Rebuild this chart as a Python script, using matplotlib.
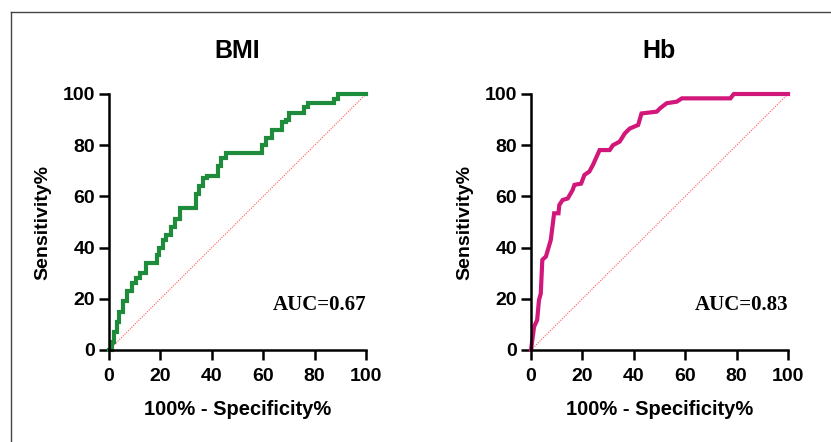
import matplotlib
matplotlib.use('Agg')
import matplotlib.pyplot as plt
from matplotlib.lines import Line2D

# ROC curve points (100% - specificity, sensitivity)
bmi_fpr = [0, 1, 1, 2, 2, 3, 3, 4, 4, 5.5, 5.5, 7, 7, 9, 9, 10.5, 10.5, 12, 12, 14.5, 14.5,
           18.5, 18.5, 19.5, 19.5, 21, 21, 22, 22, 24, 24, 25.5, 25.5, 27.5, 27.5, 34, 34,
           35, 35, 36.5, 36.5, 38, 38, 42.5, 42.5, 43.5, 43.5, 45.5, 45.5, 49, 49, 59.5,
           59.5, 61, 61, 63.5, 63.5, 67.5, 67.5, 69, 69, 70.2, 70.2, 76, 76, 77.5, 77.5,
           87.5, 87.5, 89, 89, 100]
bmi_tpr = [0, 0, 3, 3, 7, 7, 11, 11, 15, 15, 19, 19, 23, 23, 26, 26, 28, 28, 30, 30, 34,
           34, 37, 37, 40, 40, 43, 43, 45, 45, 48, 48, 51, 51, 55.5, 55.5, 61, 61, 64, 64,
           67, 67, 68, 68, 72, 72, 75, 75, 77, 77, 77, 77, 80, 80, 83, 83, 86, 86, 89, 89,
           90, 90, 92.5, 92.5, 95, 95, 96.5, 96.5, 98, 98, 100, 100]

hb_fpr = [0, 1.2, 2.4, 3.1, 3.8, 4.4, 5.8, 7.7, 9.0, 10.7, 11.0, 12.3, 14.3, 16.2, 16.9,
          19.5, 20.8, 22.7, 24.1, 26.7, 30.6, 31.9, 34.5, 36.5, 38.4, 41.7, 43.0, 48.9,
          50.2, 52.8, 56.7, 58.7, 77.6, 78.9, 100]
hb_tpr = [0, 9.1, 11.7, 19.5, 22.0, 35.2, 36.5, 43.0, 53.4, 53.4, 56.6, 58.6, 59.2, 62.5,
          64.5, 65.0, 68.4, 69.7, 72.3, 78.1, 78.1, 80.0, 81.4, 84.6, 86.5, 87.9, 92.4,
          93.1, 94.4, 96.4, 97.0, 98.3, 98.3, 100, 100]

panels = [
    ('BMI', bmi_fpr, bmi_tpr, '#1e8c3a', 'AUC=0.67'),
    ('Hb', hb_fpr, hb_tpr, '#d1177a', 'AUC=0.83'),
]
ticks = [0, 20, 40, 60, 80, 100]

W, H = 831, 442
fig = plt.figure(figsize=(W / 100, H / 100), dpi=100)
plt.rcParams['font.family'] = 'Liberation Sans'

lefts = [109, 531]
for (name, fpr, tpr, col, auc), x0 in zip(panels, lefts):
    ax = fig.add_axes([x0 / W, (H - 350) / H, 257 / W, 256 / H])
    ax.plot([0, 100], [0, 100], color='#ff5a5a', lw=0.8, ls=(0, (1, 1.2)))
    ax.plot(fpr, tpr, color=col, lw=3, clip_on=False, solid_joinstyle='miter')
    ax.set_xlim(0, 100)
    ax.set_ylim(0, 100)
    ax.set_xticks(ticks)
    ax.set_yticks(ticks)
    for s in ['top', 'right']:
        ax.spines[s].set_visible(False)
    for s in ['left', 'bottom']:
        ax.spines[s].set_linewidth(1.8)
    ax.tick_params(direction='out', length=7, width=1.8, labelsize=14)
    ax.tick_params(axis='x', pad=6)
    ax.tick_params(axis='y', pad=3)
    for lab in ax.get_xticklabels() + ax.get_yticklabels():
        lab.set_fontweight('bold')
    ax.set_xlabel('100% - Specificity%', fontsize=14.5, fontweight='bold', labelpad=11)
    ax.set_ylabel('Sensitivity%', fontsize=14, fontweight='bold', labelpad=8)
    ax.set_title(name, fontsize=18, fontweight='bold', pad=26)
    ax.text(100, 17.5, auc, ha='right', va='center', fontsize=15, fontweight='bold',
            family='Liberation Serif')

# thin frame along the top and left edges of the picture
fig.add_artist(Line2D([10.5 / W, 1], [1 - 11.5 / H, 1 - 11.5 / H], color='#444444', lw=1))
fig.add_artist(Line2D([10.5 / W, 10.5 / W], [0, 1 - 11.5 / H], color='#444444', lw=1))

fig.savefig('out.png', dpi=100)
